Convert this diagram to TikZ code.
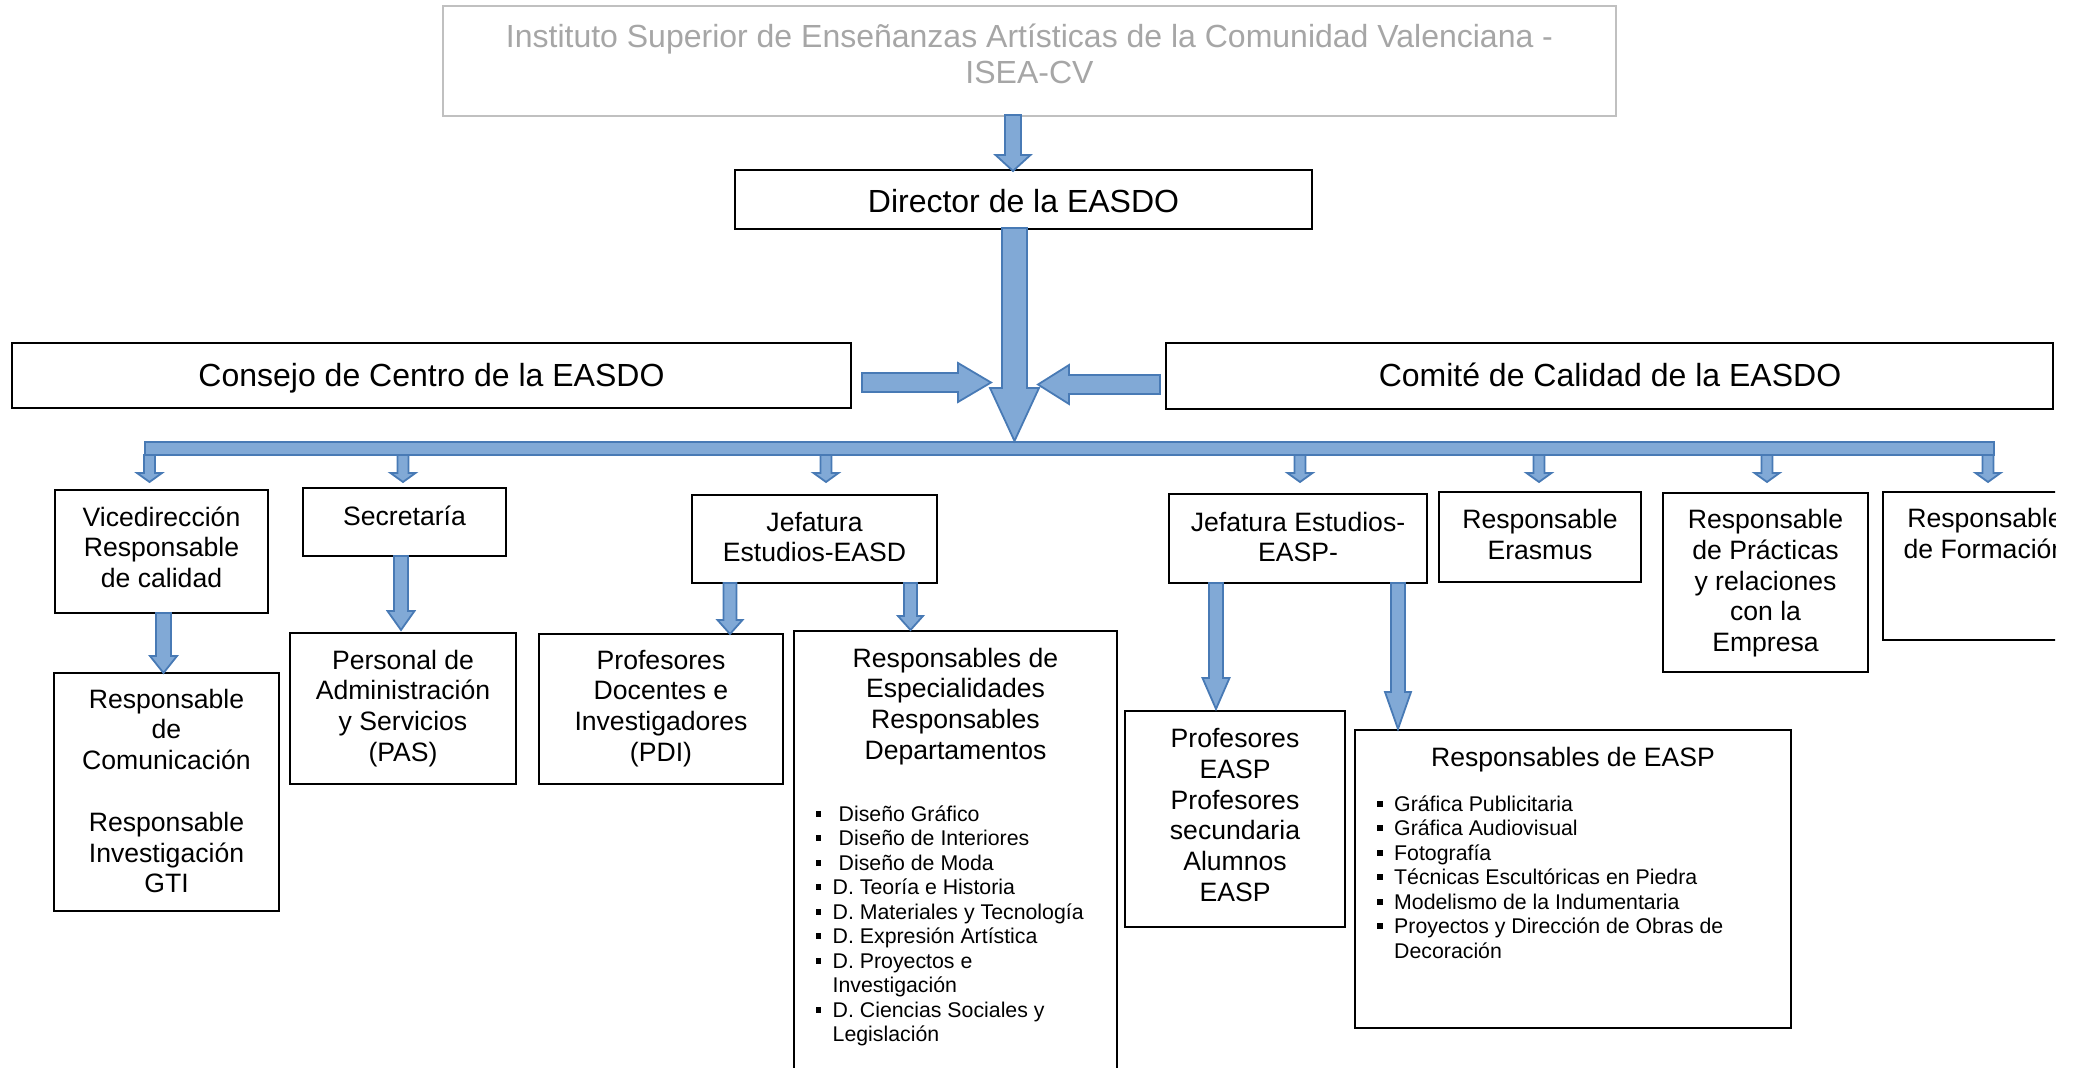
\documentclass[tikz,border=0pt]{standalone}
\usepackage{fontspec}
\setmainfont{Liberation Sans}
\definecolor{afill}{RGB}{129,169,214}
\definecolor{aline}{RGB}{72,122,181}
\definecolor{tgray}{RGB}{166,166,166}
\definecolor{bgray}{RGB}{192,192,192}
\newcommand\bul{\rule[4.5pt]{5.5pt}{6pt}\hspace*{11.5pt}}
\newcommand\bulw{\rule[4.5pt]{5.5pt}{6pt}\hspace*{17.5pt}}
\newcommand\cont{\hspace*{17pt}}
% block arrows: cx, ytop, ytip, shaft half width, head half width, head length
\newcommand\blockdown[6]{\filldraw[barrow] (#1-#4,#2) -- (#1+#4,#2) -- (#1+#4,#3-#6) -- (#1+#5,#3-#6) -- (#1,#3) -- (#1-#5,#3-#6) -- (#1-#4,#3-#6) -- cycle;}
% horizontal: xtail, xtip, cy, shaft half, head half, head length
\newcommand\blockright[6]{\filldraw[barrow] (#1,#3-#4) -- (#2-#6,#3-#4) -- (#2-#6,#3-#5) -- (#2,#3) -- (#2-#6,#3+#5) -- (#2-#6,#3+#4) -- (#1,#3+#4) -- cycle;}
\newcommand\blockleft[6]{\filldraw[barrow] (#1,#3-#4) -- (#2+#6,#3-#4) -- (#2+#6,#3-#5) -- (#2,#3) -- (#2+#6,#3+#5) -- (#2+#6,#3+#4) -- (#1,#3+#4) -- cycle;}
\newcommand\boxat[6][]{\node[box,#1,minimum width={#5-#3},minimum height={#6-#4},anchor=north west] (#2) at (#3,#4) {};}

\begin{document}
\begin{tikzpicture}[x=1pt,y=-1pt,
  box/.style={draw=black,line width=2.2pt,inner sep=0pt,outer sep=0pt},
  barrow/.style={fill=afill,draw=aline,line width=1.8pt,line join=miter},
  tA/.style={font=\fontsize{32}{36.5}\selectfont,align=center,inner sep=0pt,anchor=base},
  tB/.style={font=\fontsize{26.6}{30.8}\selectfont,align=center,inner sep=0pt,anchor=base},
  tC/.style={font=\fontsize{21.3}{24.5}\selectfont,align=left,inner sep=0pt,anchor=base west},
]
\useasboundingbox (0,0) rectangle (2081,1068);
\begin{scope}
\clip (0,0) rectangle (2055,1068);

% ---------- boxes ----------
\boxat[draw=bgray]{tit}{443}{6}{1616}{116}
\boxat{dir}{735}{170}{1312}{229}
\boxat{cons}{12}{343}{851}{408}
\boxat{comi}{1166}{343}{2053}{409}
\boxat{vice}{55}{490}{268}{613}
\boxat{sec}{303}{488}{506}{556}
\boxat{jeasd}{692}{495}{937}{583}
\boxat{jeasp}{1169}{494}{1427}{583}
\boxat{eras}{1439}{492}{1641}{582}
\boxat{prac}{1663}{493}{1868}{672}
\boxat{form}{1883}{492}{2087}{640}
\boxat{com}{54}{673}{279}{911}
\boxat{pas}{290}{633}{516}{784}
\boxat{pdi}{539}{634}{783}{784}
\boxat{esp}{794}{631}{1117}{1090}
\boxat{pesp}{1125}{711}{1345}{927}
\boxat{easp}{1355}{730}{1791}{1028}

% ---------- texts (anchor = baseline of the last line) ----------
\node[tA,text=tgray] (titt) at (1029.5,83.5) {Instituto Superior de Enseñanzas Artísticas de la Comunidad Valenciana -\\ISEA-CV};
\node[tA] (dirt) at (1023.5,212) {Director de la EASDO};
\node[tA] (const) at (431.5,386) {Consejo de Centro de la EASDO};
\node[tA] (comit) at (1610,386) {Comité de Calidad de la EASDO};
\node[tB] (vicet) at (161.5,587.6) {Vicedirección\\Responsable\\de calidad};
\node[tB] (sect) at (404.5,525) {Secretaría};
\node[tB] (jeasdt) at (814.5,561.8) {Jefatura\\Estudios-EASD};
\node[tB] (jeaspt) at (1298,561.8) {Jefatura Estudios-\\EASP-};
\node[tB] (erast) at (1540,559.3) {Responsable\\Erasmus};
\node[tB] (pract) at (1765.5,651.7) {Responsable\\de Prácticas\\y relaciones\\con la\\Empresa};
\node[tB] (formt) at (1985,558.3) {Responsable\\de Formación};
\node[tB] (comt) at (166.5,892.8) {Responsable\\de\\Comunicación\\[30.8pt]Responsable\\Investigación\\GTI};
\node[tB] (past) at (403,761.4) {Personal de\\Administración\\y Servicios\\(PAS)};
\node[tB] (pdit) at (661,761.4) {Profesores\\Docentes e\\Investigadores\\(PDI)};
\node[tB] (espt) at (955.5,759.4) {Responsables de\\Especialidades\\Responsables\\Departamentos};
\node[tC] (espl) at (815.5,1041.5) {\bulw Diseño Gráfico\\\bulw Diseño de Interiores\\\bulw Diseño de Moda\\\bul D. Teoría e Historia\\\bul D. Materiales y Tecnología\\\bul D. Expresión Artística\\\bul D. Proyectos e\\\cont Investigación\\\bul D. Ciencias Sociales y\\\cont Legislación};
\node[tB] (pespt) at (1235,901.5) {Profesores\\EASP\\Profesores\\secundaria\\Alumnos\\EASP};
\node[tB] (easpt) at (1573,766.5) {Responsables de EASP};
\node[tC] (easpl) at (1377,958) {\bul Gráfica Publicitaria\\\bul Gráfica Audiovisual\\\bul Fotografía\\\bul Técnicas Escultóricas en Piedra\\\bul Modelismo de la Indumentaria\\\bul Proyectos y Dirección de Obras de\\\cont Decoración};

% ---------- arrows ----------
\blockdown{1013}{115}{171}{8}{17.5}{16}
\filldraw[barrow] (145,442) rectangle (1994,455);
\blockdown{1014.5}{228}{441}{12.5}{24.5}{53}
\blockright{862}{991}{382.5}{9.5}{19.5}{33}
\blockleft{1160}{1038}{384.5}{9.5}{19.5}{31}
\foreach \cx in {149.5,403,826,1300,1539,1767,1988}{\blockdown{\cx}{455}{482}{5.5}{12.5}{9}}
\blockdown{163.5}{613}{673}{7.5}{13.5}{17}
\blockdown{401}{556}{630}{7}{13.5}{19}
\blockdown{730}{583}{634}{6.5}{12.5}{14}
\blockdown{910.5}{583}{630}{6.5}{12.5}{14}
\blockdown{1216}{583}{709}{7}{13.5}{31}
\blockdown{1398}{583}{729}{7}{13}{37}
\end{scope}
\end{tikzpicture}
\end{document}
